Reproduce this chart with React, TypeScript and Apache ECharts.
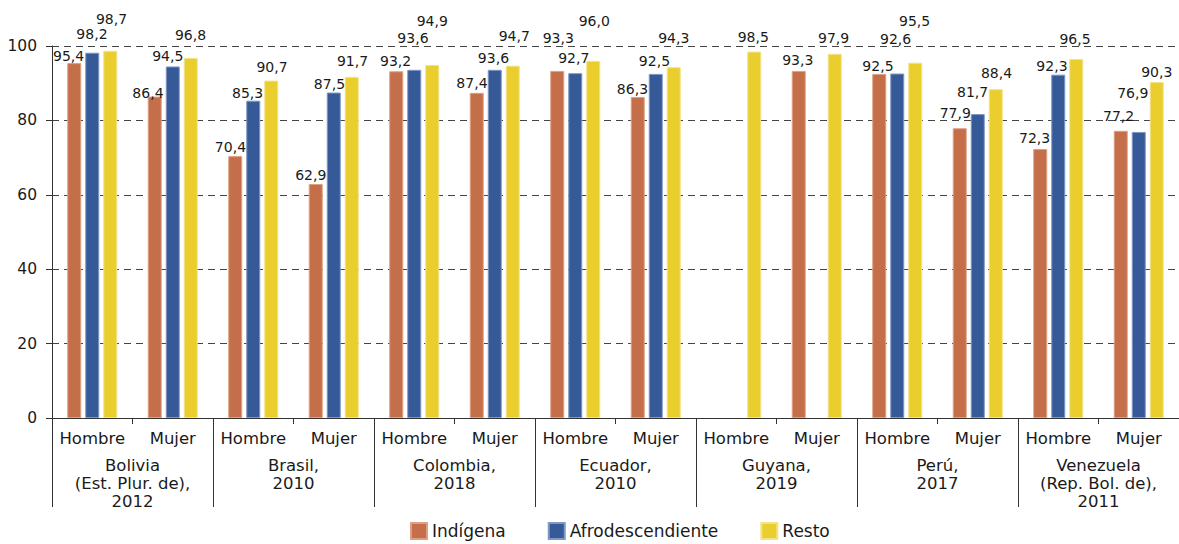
import React, { useEffect, useRef } from "react";
import * as echarts from "echarts";

// ---- Data ----
const categories = [
  "Hombre", "Mujer", "Hombre", "Mujer", "Hombre", "Mujer", "Hombre",
  "Mujer", "Hombre", "Mujer", "Hombre", "Mujer", "Hombre", "Mujer",
];
const countries = [
  "Bolivia\n(Est. Plur. de),\n2012",
  "Brasil,\n2010",
  "Colombia,\n2018",
  "Ecuador,\n2010",
  "Guyana,\n2019",
  "Perú,\n2017",
  "Venezuela\n(Rep. Bol. de),\n2011",
];
const indigena = [95.4, 86.4, 70.4, 62.9, 93.2, 87.4, 93.3, 86.3, null, 93.3, 92.5, 77.9, 72.3, 77.2];
const afro = [98.2, 94.5, 85.3, 87.5, 93.6, 93.6, 92.7, 92.5, null, null, 92.6, 81.7, 92.3, 76.9];
const resto = [98.7, 96.8, 90.7, 91.7, 94.9, 94.7, 96.0, 94.3, 98.5, 97.9, 95.5, 88.4, 96.5, 90.3];
const seriesNames = ["Indígena", "Afrodescendiente", "Resto"];
const yTicks = { min: 0, max: 100, interval: 20 };

// ---- Label placement (px nudges, as in the source figure) ----
const indigenaLabelDx = [-5.7, -6.8, -4.8, -5, -0.7, -4.8, 1, -5.3, 0, -1, -1.3, -4.5, -5.7, -2.2];
const indigenaLabelLift = [2.4, -1.1, 4.4, 4.7, 5.3, 4.6, 28.6, 2.7, 0, 5.9, 3.2, 10.9, 6.3, 10.1];
const afroLabelDx = [-0.3, -5, -5.7, -4.3, -1.3, -1.3, -1.5, -1.3, 0, 0, -1.7, -5.2, -6.3, -6];
const afroLabelLift = [13.4, 5.5, 3, 4.2, 27.5, 7.1, 10.5, 7.9, 0, 0, 30.2, 16.8, 3.9, 34.6];
const restoLabelDx = [1.2, -0.3, 0.7, 0.7, 0, 1.5, 1, 0, -1, -1.2, -0.7, 0.7, -1.3, 0];
const restoLabelLift = [27.5, 18.6, 8.3, 11.2, 39, 25, 34.9, 24.9, 9.3, 11.1, 36.7, 11.8, 15.7, 4.8];

const colors = ["#C56F4A", "#365A98", "#E9CE2D"];
const borderColors = ["#DDA083", "#8197C4", "#F3E28A"];
const FONT = "'DejaVu Sans', sans-serif";
const BASE_LIFT = 2.2;

function buildData(values: (number | null)[], dx: number[], lift: number[]) {
  return values.map((v, i) =>
    v == null
      ? null
      : { value: v, label: { offset: [dx[i], BASE_LIFT - lift[i]] } }
  );
}

export default function App() {
  const ref = useRef<HTMLDivElement>(null);
  useEffect(() => {
    if (!ref.current) return;
    const chart = echarts.init(ref.current, null, { renderer: "svg" });
    const seriesData = [
      buildData(indigena, indigenaLabelDx, indigenaLabelLift),
      buildData(afro, afroLabelDx, afroLabelLift),
      buildData(resto, restoLabelDx, restoLabelLift),
    ];
    chart.setOption({
      animation: false,
      textStyle: { fontFamily: FONT },
      grid: { left: 52, top: 46, width: 1134, height: 372, containLabel: false },
      legend: {
        data: seriesNames,
        left: 410,
        top: 522,
        padding: 0,
        icon: "rect",
        itemWidth: 16,
        itemHeight: 16,
        itemGap: 42,
        textStyle: { fontSize: 17, color: "#1a1a1a", fontFamily: FONT, lineHeight: 18 },
      },
      xAxis: [
        {
          type: "category",
          data: categories,
          position: "bottom",
          axisLine: { show: true, lineStyle: { color: "#333", width: 1 } },
          axisTick: { show: true, interval: 0, length: 6, lineStyle: { color: "#333" } },
          axisLabel: {
            interval: 0,
            margin: 12,
            fontSize: 16.5,
            color: "#1a1a1a",
            fontFamily: FONT,
          },
        },
        {
          type: "category",
          data: countries,
          position: "bottom",
          axisLine: { show: false },
          axisTick: { show: true, interval: 0, length: 89, lineStyle: { color: "#333" } },
          axisLabel: {
            interval: 0,
            margin: 38,
            fontSize: 16.5,
            lineHeight: 18,
            color: "#1a1a1a",
            fontFamily: FONT,
          },
        },
      ],
      yAxis: {
        type: "value",
        min: yTicks.min,
        max: yTicks.max,
        interval: yTicks.interval,
        axisLine: { show: true, lineStyle: { color: "#333" } },
        axisTick: { show: true, length: 6, lineStyle: { color: "#333" } },
        axisLabel: { fontSize: 15.5, color: "#1a1a1a", margin: 15, fontFamily: FONT },
        splitLine: { show: true, lineStyle: { color: "#444", type: [7, 5], width: 1 } },
      },
      series: seriesNames.map((name, k) => ({
        name,
        type: "bar",
        xAxisIndex: 0,
        data: seriesData[k],
        barWidth: 14,
        barGap: "28.6%",
        itemStyle: { color: colors[k], borderColor: borderColors[k], borderWidth: 1 },
        label: {
          show: true,
          position: "top",
          distance: 0,
          fontSize: 14,
          color: "#1a1a1a",
          fontFamily: FONT,
          formatter: (p: any) => Number(p.value).toFixed(1).replace(".", ","),
        },
      })),
    });
    return () => chart.dispose();
  }, []);
  return (
    <div
      ref={ref}
      style={{ position: "absolute", left: 0, top: 0, width: 1179, height: 544 }}
    />
  );
}
